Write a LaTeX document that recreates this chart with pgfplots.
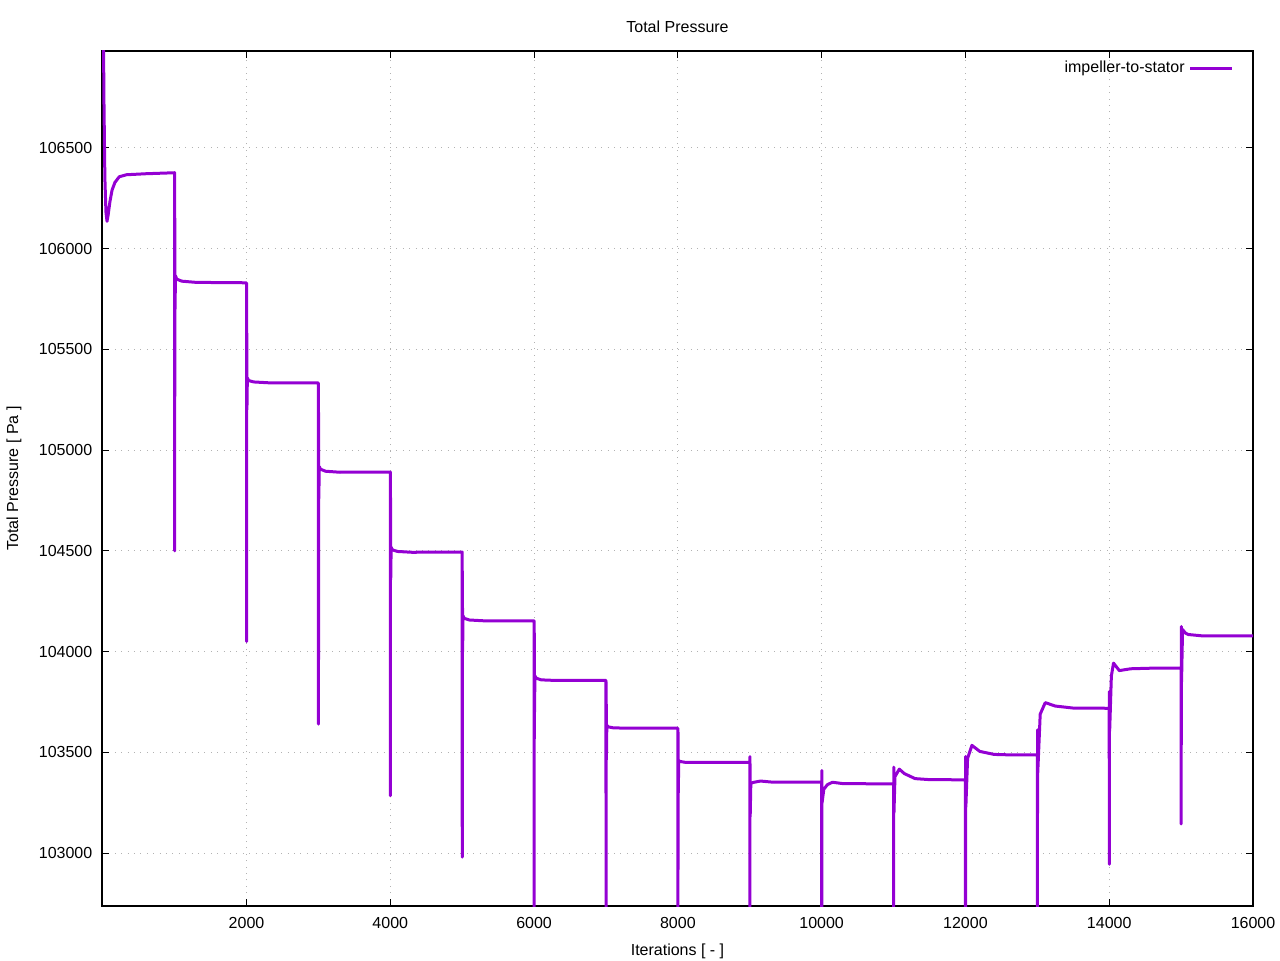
\documentclass[border=0pt]{standalone}
\usepackage{pgfplots}
\pgfplotsset{compat=1.18}
\usepackage{fontspec}
\setmainfont{Liberation Sans}
\definecolor{plotviolet}{HTML}{9400D3}
\pgfplotsset{mylegend/.style={legend image code/.code={\draw[##1] (1.5pt,0pt) -- (22.5pt,0pt);}}}
\begin{document}
\fontsize{8}{10}\selectfont
\begin{tikzpicture}
\begin{axis}[
  scale only axis,
  width=575.5pt, height=427.5pt,
  at={(0,0)}, anchor=south west,
  xmin=-10, xmax=16000,
  ymin=102738, ymax=106980,
  xtick={2000,4000,6000,8000,10000,12000,14000,16000},
  xticklabels={2000,4000,6000,8000,10000,12000,14000,16000},
  ytick={103000,103500,104000,104500,105000,105500,106000,106500},
  yticklabels={103000,103500,104000,104500,105000,105500,106000,106500},
  scaled ticks=false,
  tick align=inside,
  major tick length=3.5pt,
  tick style={black, line width=0.5pt},
  axis line style={black, line width=0.6pt},
  grid=major,
  major grid style={gray!60, line width=0.5pt, dash pattern=on 0.5pt off 2.7pt},
  xticklabel style={yshift=-3pt},
  yticklabel style={xshift=-2pt},
  every axis title/.style={at={(axis description cs:0.5,1.0280)}, anchor=center},
  every axis x label/.style={at={(axis description cs:0.5,-0.0527)}, anchor=center},
  every axis y label/.style={at={(axis description cs:-0.0765,0.5)}, anchor=center, rotate=90},
  title={Total Pressure},
  xlabel={Iterations [ - ]},
  ylabel={Total Pressure [ Pa ]},
  legend style={at={(axis description cs:1,1)}, anchor=north east, draw=none, fill=none, xshift=-6.5pt, yshift=-1pt},
  legend plot pos=right,
  legend cell align=right,
]
\addplot[color=plotviolet, line width=1.5pt, line join=round, mylegend] table {
x y
0 108500
15 106800
30 106350
45 106180
60 106135
75 106165
100 106232
130 106290
170 106328
230 106356
330 106366
600 106371
1000 106376
1001 104500
1003 106150
1006 105700
1012 105865
1030 105848
1100 105838
1300 105832
2000 105830
2001 104050
2003 105640
2006 105200
2012 105358
2030 105345
2100 105338
2300 105334
3000 105333
3001 103640
3003 105186
3006 104760
3012 104918
3030 104905
3100 104895
3300 104890
4000 104891
4001 103285
4003 104764
4006 104357
4012 104518
4030 104505
4100 104497
4300 104493
5000 104494
5001 102980
5003 104400
5006 104000
5012 104178
5030 104165
5100 104157
5300 104153
6000 104153
6001 102400
6003 104093
6006 103700
6012 103880
6030 103868
6100 103860
6300 103857
7000 103857
7001 102400
7003 103850
7006 103464
7012 103635
7030 103627
7100 103622
7300 103620
8000 103620
8001 102400
8003 103600
8006 103300
8012 103460
8030 103455
8100 103451
8300 103450
9000 103451
9001 102400
9003 103479
9006 103181
9015 103347
9060 103352
9150 103358
9300 103353
10000 103352
10001 102400
10003 103410
10006 103250
10030 103317
10080 103340
10150 103352
10300 103345
11000 103344
11001 102400
11003 103427
11006 103200
11020 103380
11080 103417
11150 103395
11300 103370
11500 103365
12000 103364
12001 102400
12003 103480
12006 103230
12030 103470
12090 103535
12200 103505
12400 103490
12600 103488
13000 103488
13001 102400
13003 103612
13006 103400
13040 103690
13110 103747
13250 103730
13500 103720
14000 103719
14001 102945
14003 103803
14006 103605
14030 103880
14060 103943
14140 103906
14300 103915
14600 103918
15000 103918
15001 103145
15003 104125
15006 103850
15020 104110
15060 104092
15100 104085
15300 104078
16000 104078
};
\addlegendentry{impeller-to-stator}
\end{axis}
\pgfresetboundingbox
\path[use as bounding box] (-51pt,-27pt) rectangle (589pt,453pt);
\end{tikzpicture}
\end{document}
